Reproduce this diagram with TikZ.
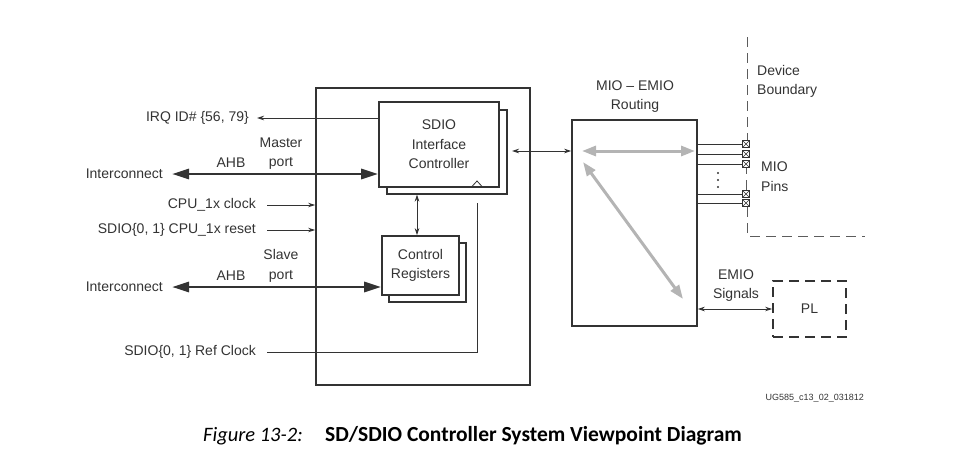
\documentclass[tikz,border=0pt]{standalone}
\usepackage{fontspec}
\setmainfont{Liberation Sans}
\newfontfamily\capfont{Carlito}
\usetikzlibrary{arrows.meta,positioning,calc}
\definecolor{ink}{HTML}{333333}
\definecolor{lgray}{HTML}{B4B4B4}
\tikzset{
  lbl/.style={inner sep=0pt, font=\fontsize{14}{19.5}\selectfont, text=ink, align=center},
  blk/.style={draw=ink, line width=1.6pt, fill=white, inner sep=0pt, align=center, font=\fontsize{14}{19.5}\selectfont, text=ink},
  thin/.style={draw=ink, line width=0.8pt},
  sarrow/.style={thin, -{Stealth[length=7pt,width=4.5pt]}},
  darrow/.style={thin, {Stealth[length=7pt,width=4.5pt]}-{Stealth[length=7pt,width=4.5pt]}},
  ahb/.style={draw=ink, line width=2.8pt, {Triangle[length=17pt,width=10pt]}-{Triangle[length=17pt,width=10pt]}},
  garrow/.style={draw=lgray, line width=3pt, {Triangle[length=14pt,width=10pt]}-{Triangle[length=14pt,width=10pt]}},
  mpin/.style={draw=ink, line width=0.7pt, fill=white, minimum size=7.5pt, inner sep=0pt,
    path picture={\draw[ink, line width=0.5pt] (path picture bounding box.north west)--(path picture bounding box.south east)
      (path picture bounding box.north east)--(path picture bounding box.south west);}},
  bnd/.style={draw=ink!80, line width=1pt, dash pattern=on 10pt off 6pt},
}
\begin{document}
\begin{tikzpicture}[x=1pt,y=-1pt]
\useasboundingbox (0,0) rectangle (969,469);
% main block
\node[draw=ink, line width=1.8pt, minimum width=214pt, minimum height=297pt, inner sep=0pt] (main) at (423,236.5) {};
% SDIO controller
\node[blk, minimum width=120pt, minimum height=84pt] (ctrlS) at (447,152) {};
\node[blk, minimum width=120pt, minimum height=85pt] (ctrl) at (439,144.5) {SDIO\\Interface\\Controller};
% control registers
\node[blk, minimum width=77pt, minimum height=59pt] (regS) at (427.5,272.5) {};
\node[blk, minimum width=77pt, minimum height=59pt] (reg) at (420.5,265.5) {Control\\Registers};
% clock triangle
\coordinate (tri) at (477,187);
\draw[ink, line width=0.8pt] ($(tri)+(-5.5,0)$) -- ($(tri)+(0,-6)$) -- ($(tri)+(5.5,0)$);

% ctrl <-> reg
\coordinate (cr1) at (417,194.5);
\draw[darrow] (cr1) -- (reg.north -| cr1);

% left labels
\node[lbl, anchor=east] (irq) at (249,118) {IRQ ID\# \{56, 79\}};
\coordinate (irqend) at (257,118);
\draw[sarrow] (ctrl.west |- irqend) -- (irqend);

\node[lbl, anchor=east] (ic1) at (163,174) {Interconnect};
\coordinate (m1) at (172,174);
\draw[ahb] (m1) -- (ctrl.west |- m1);
\node[lbl] (ahb1) at (231,163) {AHB};
\node[lbl] (mport) at (281,153.5) {Master\\port};

\node[lbl, anchor=east] (clk) at (256,205) {CPU\_1x clock};
\coordinate (clks) at (267,205);
\draw[sarrow] (clks) -- (main.west |- clks);

\node[lbl, anchor=east] (rst) at (256,230) {SDIO\{0, 1\} CPU\_1x reset};
\coordinate (rsts) at (267,230);
\draw[sarrow] (rsts) -- (main.west |- rsts);

\node[lbl, anchor=east] (ic2) at (163,287) {Interconnect};
\coordinate (s1) at (172,287);
\draw[ahb] (s1) -- (reg.west |- s1);
\node[lbl] (ahb2) at (231,276) {AHB};
\node[lbl] (sport) at (281,266) {Slave\\port};

\node[lbl, anchor=east] (ref) at (256,352) {SDIO\{0, 1\} Ref Clock};
\coordinate (refs) at (267,352);
\coordinate (refu) at (477,203);
\draw[thin] (refs) -- (refu |- refs) -- (refu);

% MIO-EMIO routing
\node[draw=ink, line width=1.6pt, minimum width=125pt, minimum height=206pt, inner sep=0pt] (mio) at (634.5,223) {};
\node[lbl] (miolbl) at (635,96.5) {MIO -- EMIO\\Routing};
\coordinate (me1) at (512,151);
\draw[darrow] (me1) -- (mio.west |- me1);
\coordinate (g1) at (582,151);
\coordinate (g2) at (695,151);
\draw[garrow] (g1) -- (g2);
\coordinate (g3) at (583,162);
\coordinate (g4) at (683,299);
\draw[garrow] (g3) -- (g4);

% MIO pins
\foreach \i/\y in {1/144,2/154,3/164,4/194,5/203}{
  \node[mpin] (p\i) at (746,\y) {};
  \draw[thin] (mio.east |- p\i) -- (p\i.west);
}
\foreach \y in {173,180,187}{
  \fill[ink] (718,\y) circle (1.2pt);
}
% device boundary
\coordinate (b1) at (747,37);
\coordinate (b2) at (747,236);
\coordinate (b3) at (865,236);
\draw[bnd] (b1) -- (p1.north -| b1);
\draw[bnd] (p5.south -| b1) -- (b2) -- (b3);
\draw[bnd, dash phase=4pt] (p3.south) -- (p4.north);
\node[lbl, anchor=west, align=left] (dev) at (757,81.5) {Device\\Boundary};
\node[lbl, anchor=west, align=left] (pins) at (761,176.5) {MIO\\Pins};

% PL
\node[draw=ink, line width=1.8pt, dash pattern=on 10pt off 6pt, minimum width=73pt, minimum height=56pt, inner sep=0pt, font=\fontsize{14}{19.5}\selectfont, text=ink] (pl) at (809.5,309) {PL};
\coordinate (em) at (697,309);
\draw[darrow] (mio.east |- em) -- (pl.west |- em);
\node[lbl] (emio) at (736,285.5) {EMIO\\Signals};

\node[inner sep=0pt, anchor=east, font=\fontsize{9}{10}\selectfont, text=ink] (ug) at (864,398) {UG585\_c13\_02\_031812};

% caption
\node[inner sep=0pt, anchor=west, font=\capfont\itshape\fontsize{20.5}{24}\selectfont] (fig) at (203,436) {Figure 13-2:};
\node[inner sep=0pt, anchor=west, font=\capfont\bfseries\fontsize{21.5}{26}\selectfont] (cap) at (325,436) {SD/SDIO Controller System Viewpoint Diagram};
\end{tikzpicture}
\end{document}
